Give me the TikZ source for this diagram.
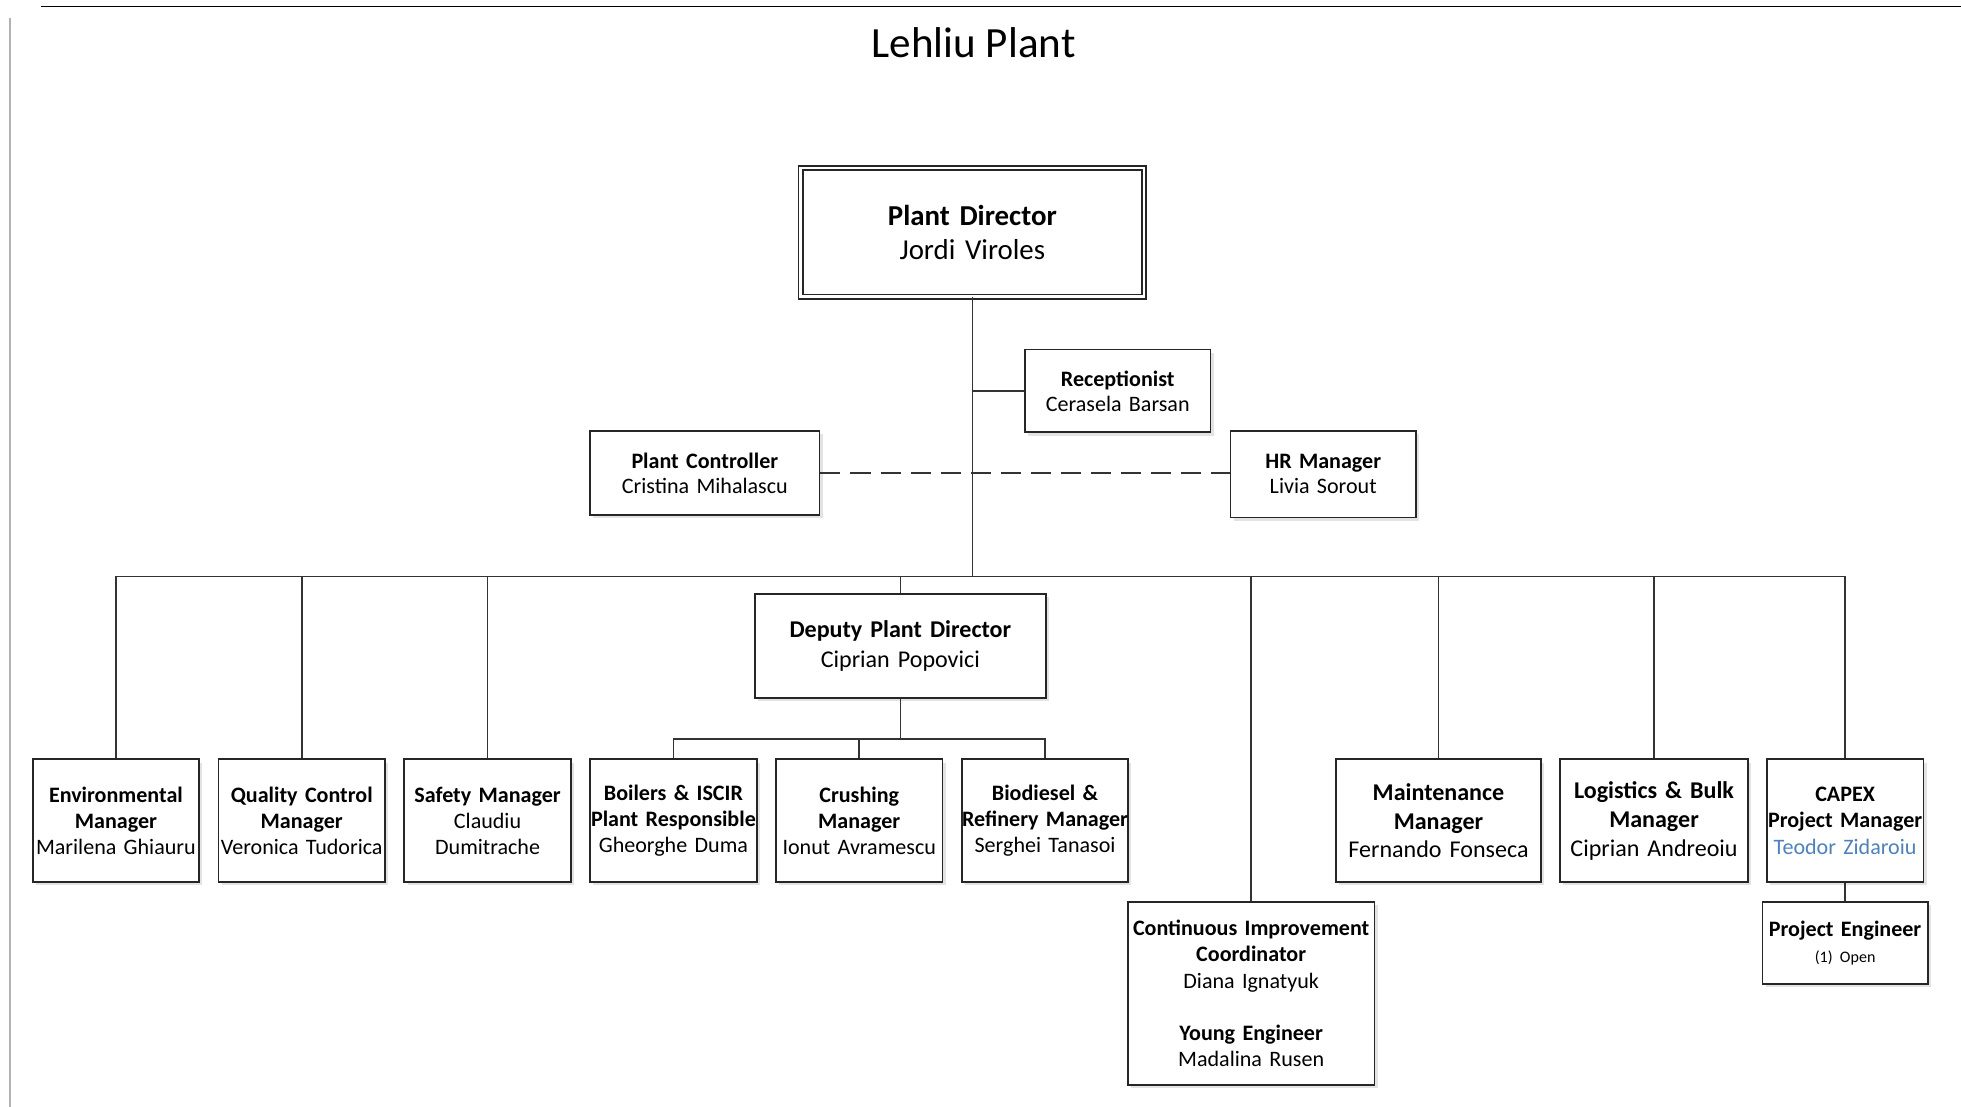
\documentclass[tikz,border=0pt]{standalone}
\usepackage{fontspec}
\setmainfont{Carlito}
\usetikzlibrary{positioning,shadows}
\definecolor{openblue}{RGB}{79,129,189}

\begin{document}
\begin{tikzpicture}[x=0.625pt,y=-0.625pt,node distance=92.69pt,
  box/.style={draw=black!85,line width=0.9pt,fill=white,align=center,inner xsep=0pt,inner ysep=2pt,
    font=\fontsize{11}{13.1}\selectfont},
  shbox/.style={box,drop shadow={shadow xshift=1.6pt,shadow yshift=-1.6pt,fill=black!22}},
  row/.style={shbox,text width=83pt,minimum height=61.25pt},
  link/.style={draw=black!80,line width=0.8pt}]

\useasboundingbox (0,0) rectangle (1565,883.4);
\draw[line width=0.6pt] (33,5) -- (1565,5);
\draw[black!30,line width=0.8pt] (8,14) -- (8,883.4);
\node[anchor=base] (title) at (777,45.5) {\fontsize{21.5}{25}\selectfont Lehliu Plant};

\node[box,double,double distance=1.2pt,text width=171.4pt,minimum height=64pt,
  font=\fontsize{14.4}{17}\selectfont] (pd) at (776,185.5) {\textbf{Plant Director}\\Jordi Viroles};
\node[shbox,text width=92.5pt,minimum height=41.25pt,font=\fontsize{11}{12.5}\selectfont] (rec) at (892,312)
  {\textbf{Receptionist}\\Cerasela Barsan};
\node[shbox,text width=114.4pt,minimum height=41.9pt,font=\fontsize{11}{12.5}\selectfont] (pc) at (562.5,377.5)
  {\textbf{Plant Controller}\\Cristina Mihalascu};
\node[shbox,text width=92.5pt,minimum height=43.1pt,font=\fontsize{11}{12.5}\selectfont] (hr) at (1056,378.5)
  {\textbf{HR Manager}\\Livia Sorout};
\node[shbox,text width=145pt,minimum height=51.9pt,font=\fontsize{12}{15}\selectfont] (dep) at (718.5,515.5)
  {\textbf{Deputy Plant Director}\\Ciprian Popovici};

\node[row] (env) at (92.5,655) {\textbf{Environmental}\\\textbf{Manager}\\Marilena Ghiauru};
\node[row] (qc) [right of=env] {\textbf{Quality Control}\\\textbf{Manager}\\Veronica Tudorica};
\node[row] (sm) [right of=qc] {\textbf{Safety Manager}\\Claudiu\\Dumitrache};
\node[row] (boil) [right of=sm] {\textbf{Boilers \& ISCIR}\\\textbf{Plant Responsible}\\Gheorghe Duma};
\node[row] (crush) [right of=boil] {\textbf{Crushing}\\\textbf{Manager}\\Ionut Avramescu};
\node[row] (bio) [right of=crush] {\textbf{Biodiesel \&}\\\textbf{Refinery Manager}\\Serghei Tanasoi};
\node[row,text width=102.5pt,font=\fontsize{12}{14.4}\selectfont] (mnt) at (1148,655)
  {\textbf{Maintenance}\\\textbf{Manager}\\Fernando Fonseca};
\node[row,text width=93.75pt,font=\fontsize{12}{14.4}\selectfont] (log) at (1320,655)
  {\textbf{Logistics \& Bulk}\\\textbf{Manager}\\Ciprian Andreoiu};
\node[row,text width=78.1pt] (capex) at (1472.5,655)
  {\textbf{CAPEX}\\\textbf{Project Manager}\\\textcolor{openblue}{Teodor Zidaroiu}};
\node[shbox,text width=123.1pt,minimum height=91.25pt] (ci) at (998.5,793)
  {\textbf{Continuous Improvement}\\\textbf{Coordinator}\\Diana Ignatyuk\\[13.1pt]\textbf{Young Engineer}\\Madalina Rusen};
\node[shbox,text width=82.5pt,minimum height=40.6pt] (pe) at (1472.5,752.5)
  {\textbf{Project Engineer}\\{\fontsize{8}{10}\selectfont (1) Open}};

\coordinate (bus) at (776,460);
\coordinate (dbus) at (718.5,590);

\draw[link] (pd.south) -- (bus);
\draw[link] (pd.south |- rec.west) -- (rec.west);
\draw[link,dash pattern=on 10pt off 5pt] (pc.east) -- (pc.east -| hr.west);
\foreach \n in {env,qc,sm,dep,ci,mnt,log,capex}
  \draw[link] (bus) -| (\n.north);
\draw[link] (dep.south) -- (dbus);
\foreach \n in {boil,crush,bio}
  \draw[link] (dbus) -| (\n.north);
\draw[link] (capex.south) -- (pe.north);
\end{tikzpicture}
\end{document}
